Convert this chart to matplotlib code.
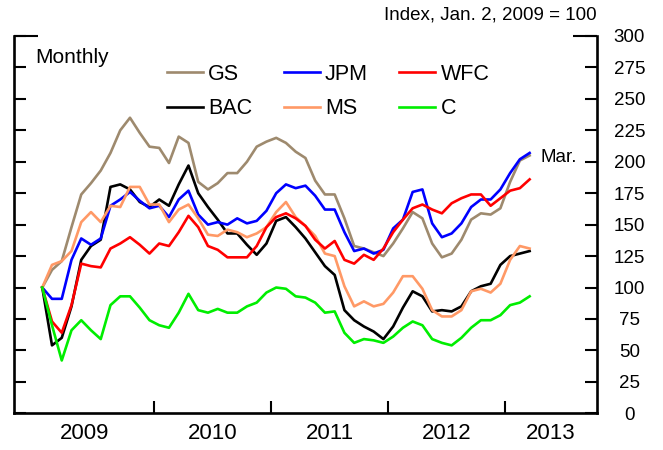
import matplotlib
matplotlib.use("Agg")
import matplotlib.pyplot as plt
import numpy as np
from matplotlib.ticker import FixedLocator

plt.rcParams["font.family"] = ["Liberation Sans", "DejaVu Sans"]

# monthly stock price index, Jan 2009 .. Mar 2013 (Jan. 2, 2009 = 100)
gs = [100, 114, 121, 148, 174, 183, 193, 207, 225, 235, 223, 212, 211, 199, 220, 215, 184, 178,
      183, 191, 191, 200, 212, 216, 219, 215, 208, 203, 185, 174, 174, 155, 133, 131, 128, 125,
      135, 147, 160, 155, 135, 124, 127, 138, 154, 159, 158, 163, 184, 201, 205]
jpm = [100, 91, 91, 122, 139, 134, 139, 165, 170, 176, 169, 163, 165, 156, 170, 177, 158, 150,
       152, 150, 155, 151, 153, 161, 175, 182, 179, 181, 173, 162, 162, 144, 129, 131, 127, 130,
       147, 154, 176, 178, 151, 140, 143, 151, 164, 170, 170, 178, 191, 202, 207]
wfc = [100, 73, 64, 86, 119, 117, 116, 131, 135, 140, 134, 127, 135, 133, 144, 157, 148, 133,
       130, 124, 124, 124, 133, 148, 156, 159, 155, 149, 138, 131, 137, 122, 119, 126, 122, 131,
       144, 154, 163, 166, 162, 159, 167, 171, 174, 174, 165, 171, 177, 179, 186]
bac = [100, 54, 60, 85, 122, 133, 138, 180, 182, 178, 168, 164, 170, 165, 182, 197, 175, 164,
       154, 143, 143, 134, 126, 135, 153, 156, 148, 139, 128, 117, 110, 82, 74, 69, 65, 59,
       69, 84, 97, 93, 81, 82, 81, 85, 97, 101, 103, 118, 125, 127, 129]
ms = [100, 118, 121, 129, 152, 160, 152, 165, 164, 180, 180, 166, 166, 152, 162, 166, 155, 142,
      141, 146, 144, 140, 143, 148, 160, 168, 156, 149, 141, 127, 125, 101, 85, 89, 85, 87,
      96, 109, 109, 99, 82, 77, 77, 82, 97, 99, 96, 103, 122, 133, 131]
citi = [100, 70, 42, 66, 74, 66, 59, 86, 93, 93, 84, 74, 70, 68, 80, 95, 82, 80, 83, 80, 80,
        85, 88, 96, 100, 99, 93, 92, 88, 80, 81, 64, 56, 59, 58, 56, 61, 68, 73, 70, 59, 56,
        54, 60, 68, 74, 74, 78, 86, 88, 93]

series = [("GS", gs, "#9e8a6e"), ("BAC", bac, "black"), ("JPM", jpm, "#0000ff"),
          ("MS", ms, "#ff9966"), ("WFC", wfc, "#ff0000"), ("C", citi, "#00ee00")]

years = [2009, 2010, 2011, 2012, 2013]
y_ticks = list(range(0, 301, 25))

# months plotted mid-month as decimal years
x = 2009 + (np.arange(len(gs)) + 0.5) / 12
x_min, x_max = 2008.80, 2013.784

fig = plt.figure(figsize=(6.63, 4.5), dpi=100)
ax = fig.add_axes([0.0211, 0.0816, 0.8793, 0.8384])

for name, vals, color in series:
    ax.plot(x, vals, color=color, lw=1.9, label=name)

ax.set_xlim(x_min, x_max)
ax.set_ylim(0, 300)

for side in ["left", "right", "bottom"]:
    ax.spines[side].set_linewidth(1.9)
ax.spines["top"].set_visible(False)

# y axis: ticks both sides, labels right, longer bracket at top
ax.set_yticks(y_ticks, [str(v) for v in y_ticks], ha="center")
ax.yaxis.set_minor_locator(FixedLocator([300]))
ax.yaxis.remove_overlapping_locs = False
ax.tick_params(axis="y", which="both", left=True, right=True, labelleft=False,
               labelright=True, direction="in", width=1.5, labelsize=13.5)
ax.tick_params(axis="y", which="major", length=8.6, pad=23.4)
ax.tick_params(axis="y", which="minor", length=17)

# x axis: ticks at year boundaries, labels centred between them
bounds = [x_min] + years[1:] + [x_max]
label_pos = [(a + b) / 2 for a, b in zip(bounds[:-1], bounds[1:])]
ax.set_xticks(years[1:], [""] * 4)
ax.set_xticks(label_pos, [str(y) for y in years], minor=True)
ax.tick_params(axis="x", which="major", direction="in", length=8.6, width=1.5)
ax.tick_params(axis="x", which="minor", length=0, labelsize=16, pad=7)

ax.legend(ncol=3, loc="upper left", bbox_to_anchor=(167 / 663, 1 - 64 / 450),
          bbox_transform=fig.transFigure, frameon=False, fontsize=15.5,
          handlelength=1.67, handletextpad=0.25, columnspacing=1.45,
          labelspacing=0.62, borderpad=0, borderaxespad=0)

ax.annotate("Mar.", xy=(x[-1], jpm[-1]), xytext=(8, -3), textcoords="offset points",
            ha="left", va="center", fontsize=13.5)
fig.text(35 / 663, 1 - 63.3 / 450, "Monthly", ha="left", va="baseline", fontsize=15)
fig.text(597 / 663, 1 - 20 / 450, "Index, Jan. 2, 2009 = 100", ha="right",
         va="baseline", fontsize=13.5)

fig.savefig("out.png", dpi=100)
